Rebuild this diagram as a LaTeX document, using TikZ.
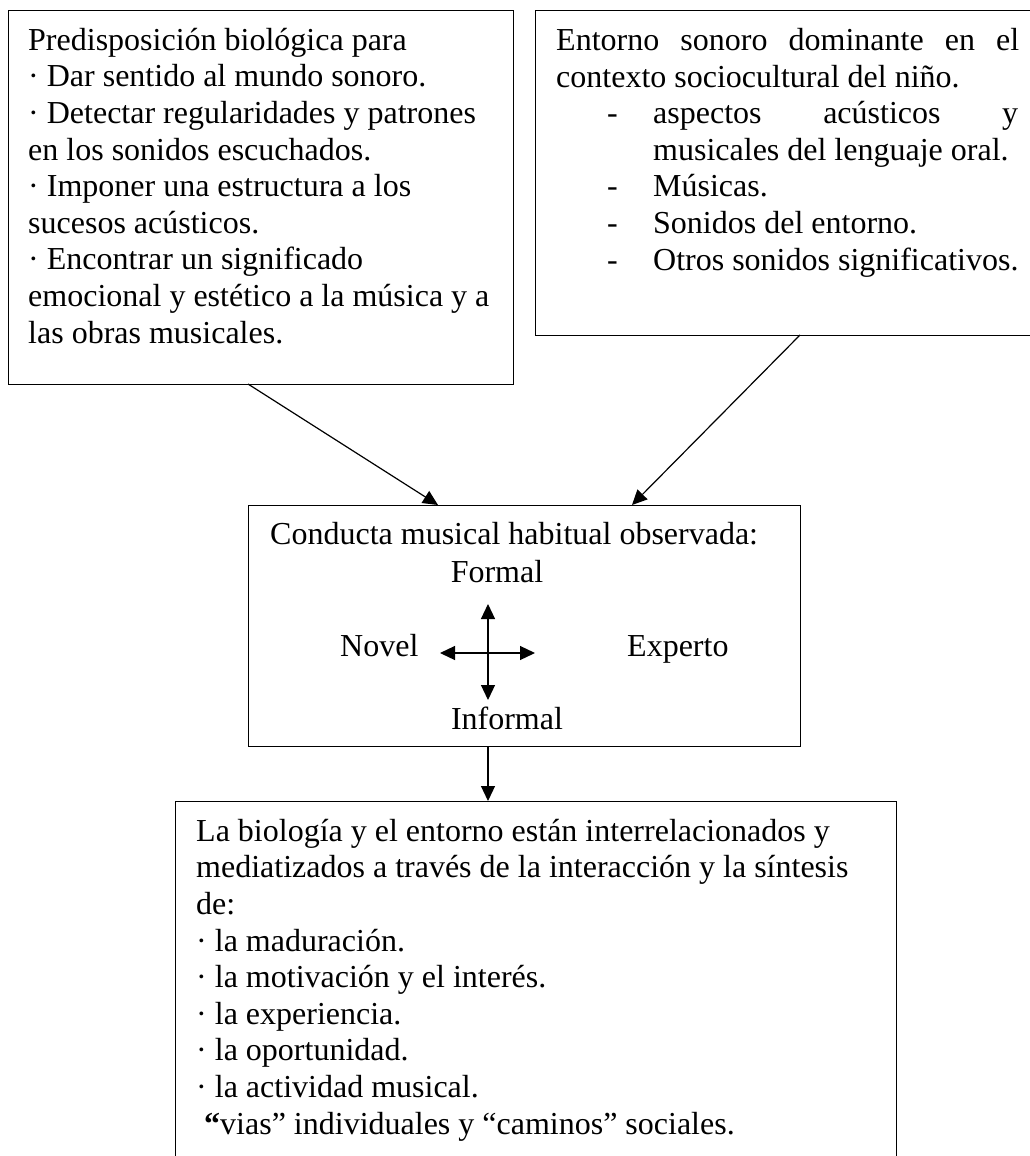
\documentclass[tikz,border=0pt]{standalone}
\usepackage{fontspec}
\setmainfont{Liberation Serif}
\usepackage{tikz}
\usetikzlibrary{positioning,arrows.meta}

\tikzset{
  caja/.style={draw, line width=1.3pt, rectangle, inner sep=0pt},
  texto/.style={inner sep=0pt, align=left, font=\fontsize{32pt}{36.6pt}\selectfont},
  flecha/.style={line width=1.2pt, -{Triangle[length=15pt,width=14pt]}},
  dobleflecha/.style={line width=1.2pt, {Triangle[length=15pt,width=14pt]}-{Triangle[length=15pt,width=14pt]}}
}

\begin{document}
\begin{tikzpicture}[x=1pt,y=-1pt]
            \useasboundingbox (0,0) rectangle (1029,1156);

            % cajas
            \node[caja, minimum width=505pt, minimum height=374pt, anchor=north west] (pred) at (8,10){};
            \node[caja, minimum width=530pt, minimum height=325pt, anchor=north west] (entorno) at (535,10){};
            \node[caja, minimum width=552pt, minimum height=241pt, anchor=north west] (conducta) at (248,505){};
            \node[caja, minimum width=721pt, minimum height=420pt, anchor=north west] (sintesis) at (175,801){};

            % textos (anclados en la linea base de la ultima linea)
            \node[texto, anchor=base west] (predtxt) at (28,343){Predisposición biológica para\\
· Dar sentido al mundo sonoro.\\
· Detectar regularidades y patrones\\
en los sonidos escuchados.\\
· Imponer una estructura a los\\
sucesos acústicos.\\
· Encontrar un significado\\
emocional y estético a la música y a\\
las obras musicales.};
            \node[texto, anchor=base west] (entornotxt) at (556,270){\makebox[463pt][s]{Entorno sonoro dominante en el}\\
contexto sociocultural del niño.\\
\hspace*{51pt}\makebox[46pt][l]{-}\makebox[365pt][s]{aspectos acústicos y}\\
\hspace*{97pt}musicales del lenguaje oral.\\
\hspace*{51pt}\makebox[46pt][l]{-}Músicas.\\
\hspace*{51pt}\makebox[46pt][l]{-}Sonidos del entorno.\\
\hspace*{51pt}\makebox[46pt][l]{-}Otros sonidos significativos.};

            \node[texto, anchor=base west] (titulo) at (270,544){Conducta musical habitual observada:};
            \node[texto, anchor=base] (formal) at (497,582){Formal};
            \node[texto, anchor=base west] (novel) at (340,656){Novel};
            \node[texto, anchor=base west] (experto) at (627,656){Experto};
            \node[texto, anchor=base] (informal) at (507,729){Informal};

            \node[texto, anchor=base west] (sintesistxt) at (196,1134){La biología y el entorno están interrelacionados y\\
mediatizados a través de la interacción y la síntesis\\
de:\\
· la maduración.\\
· la motivación y el interés.\\
· la experiencia.\\
· la oportunidad.\\
· la actividad musical.\\
\hspace*{8pt}\textbf{“}vias” individuales y “caminos” sociales.};

            % cruz
            \coordinate (cruz) at (488,653);
            \coordinate (arriba) at (488,604);
            \coordinate (abajo) at (488,700);
            \coordinate (izq) at (440,653);
            \coordinate (der) at (535,653);
            \draw[dobleflecha] (abajo) -- (arriba);
            \draw[dobleflecha] (izq) -- (der);

            % conexiones
            \coordinate (p1) at (248,384);
            \coordinate (q1) at (438,505);
            \coordinate (p2) at (800,335);
            \coordinate (q2) at (632,505);
            \draw[flecha] (p1) -- (q1);
            \draw[flecha] (p2) -- (q2);
            \draw[flecha] (conducta.south -| cruz) -- (sintesis.north -| cruz);
        \end{tikzpicture}
\end{document}
